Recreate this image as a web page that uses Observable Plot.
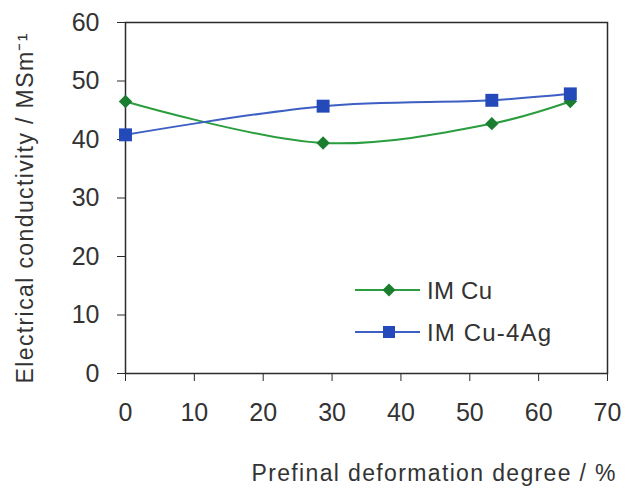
<!DOCTYPE html>
<html><head><meta charset="utf-8">
<script src="https://cdn.jsdelivr.net/npm/d3@7"></script>
<script src="https://cdn.jsdelivr.net/npm/@observablehq/plot@0.6"></script>
<style>
body{margin:0;background:#fff;font-family:"Liberation Sans",Arial,sans-serif;}
#wrap{position:relative;width:630px;height:489px;}
#legend{position:absolute;left:350px;top:270px;}
</style></head>
<body><div id="wrap"></div>
<script>
const deformation = [0, 28.7, 53.2, 64.6];
const cuValues = [46.5, 39.4, 42.7, 46.5];
const cuAgValues = [40.8, 45.7, 46.7, 47.8];
const seriesNames = ["IM Cu", "IM Cu-4Ag"];
const xTicks = [0, 10, 20, 30, 40, 50, 60, 70];
const yTicks = [0, 10, 20, 30, 40, 50, 60];
const xTitle = "Prefinal deformation degree / %";
const yTitle = "Electrical conductivity / MSm⁻¹";
const lineColors = ["#2a9d3e", "#3d5fc4"];
const markColors = ["#1b7d2e", "#2449b8"];

const cu = deformation.map((x, i) => ({x, y: cuValues[i]}));
const cuAg = deformation.map((x, i) => ({x, y: cuAgValues[i]}));

const chart = Plot.plot({
  width: 630, height: 489,
  marginLeft: 125, marginRight: 23, marginTop: 22, marginBottom: 116,
  style: {fontFamily: "'Liberation Sans', Arial, sans-serif", fontSize: "25px", color: "#333", background: "#fff"},
  x: {domain: [0, 70], ticks: xTicks},
  y: {domain: [0, 60], ticks: yTicks},
  marks: [
    Plot.frame({stroke: "#2b2b2b", strokeWidth: 1.5}),
    Plot.axisX({ticks: xTicks, tickSize: 8, tickPadding: 22, label: null, stroke: "#2b2b2b", fontSize: 25, fill: "#333"}),
    Plot.axisY({ticks: yTicks, tickSize: 8, tickPadding: 18, label: null, stroke: "#2b2b2b", fontSize: 25, fill: "#333"}),
    Plot.line(cu, {x: "x", y: "y", curve: "catmull-rom", stroke: lineColors[0], strokeWidth: 2}),
    Plot.line(cuAg, {x: "x", y: "y", curve: "catmull-rom", stroke: lineColors[1], strokeWidth: 2}),
    Plot.dot(cu, {x: "x", y: "y", symbol: "diamond2", r: 6, fill: markColors[0], stroke: "none"}),
    Plot.dot(cuAg, {x: "x", y: "y", symbol: "square", r: 7.3, fill: markColors[1], stroke: "none"}),
    Plot.text([xTitle], {frameAnchor: "bottom-right", dy: 100, dx: 8, textAnchor: "end", lineAnchor: "middle", fontSize: 23, fill: "#333"}),
    Plot.text([yTitle], {frameAnchor: "left", rotate: -90, dx: -100, dy: 10.5, textAnchor: "middle", lineAnchor: "middle", fontSize: 23, fill: "#333"})
  ]
});
document.getElementById("wrap").appendChild(chart);

d3.select(chart).selectAll("text").each(function() {
  const t = this.textContent;
  if (t === xTitle) d3.select(this).attr("textLength", 364).attr("lengthAdjust", "spacing");
  if (t === yTitle) d3.select(this).attr("textLength", 350).attr("lengthAdjust", "spacing");
});

const leg = document.createElement("div");
leg.id = "legend";
const symbols = [
  `<path d="M0,-6.5L6.5,0L0,6.5L-6.5,0Z" fill="${markColors[0]}"/>`,
  `<rect x="-6" y="-6" width="12" height="12" fill="${markColors[1]}"/>`
];
const lens = [65, 124];
let svg = `<svg width="240" height="80" style="font-family:'Liberation Sans',Arial,sans-serif;overflow:visible">`;
seriesNames.forEach((n, i) => {
  const cy = 20 + i * 42;
  svg += `<line x1="5" x2="70" y1="${cy}" y2="${cy}" stroke="${lineColors[i]}" stroke-width="2"/>`;
  svg += `<g transform="translate(39,${cy})">${symbols[i]}</g>`;
  svg += `<text x="77" y="${cy + 8.5}" font-size="24" fill="#333" textLength="${lens[i]}" lengthAdjust="spacing">${n}</text>`;
});
svg += `</svg>`;
leg.innerHTML = svg;
document.getElementById("wrap").appendChild(leg);
</script></body></html>
